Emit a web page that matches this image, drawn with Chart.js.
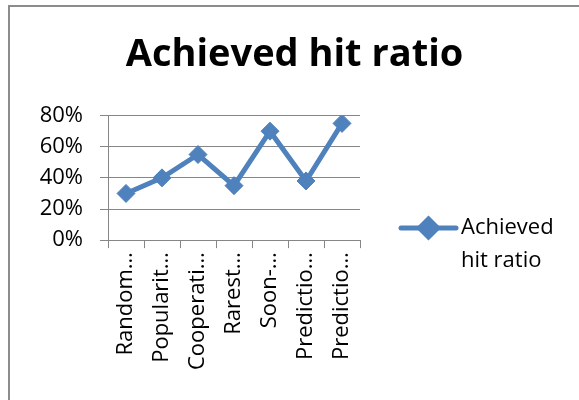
<!DOCTYPE html>
<html>
<head>
<meta charset="utf-8">
<script src="https://cdn.jsdelivr.net/npm/chart.js@4"></script>
<style>
  html, body { margin: 0; padding: 0; background: #fff; }
  #wrap { width: 579px; height: 400px; }
</style>
</head>
<body>
<div id="wrap"><canvas id="line-chart" width="579" height="400"></canvas></div>
<script>
const categories = ['Random…', 'Popularit…', 'Cooperati…', 'Rarest…', 'Soon-…', 'Predictio…', 'Predictio…'];
const hitRatio = [0.30, 0.40, 0.55, 0.35, 0.70, 0.38, 0.75];
const yTicks = [0, 0.2, 0.4, 0.6, 0.8];
const seriesName = 'Achieved hit ratio';
const legendLines = ['Achieved', 'hit ratio'];

const BLUE = '#4f81bd';
const GRID = '#868686';
const FONT = '"Open Sans", "Liberation Sans", sans-serif';

// frame round the chart, like the Excel chart border
const framePlugin = {
  id: 'frame',
  beforeDraw(chart) {
    const ctx = chart.ctx;
    ctx.save();
    ctx.strokeStyle = '#8c8c8c';
    ctx.lineWidth = 2;
    ctx.strokeRect(9, 6, chart.width + 20, chart.height + 20);
    ctx.restore();
  }
};

// legend on the right: line + diamond, wrapped text
const sideLegend = {
  id: 'sideLegend',
  afterDraw(chart) {
    const ctx = chart.ctx;
    const ds = chart.data.datasets[0];
    const x0 = 401, x1 = 456, y = 228;
    ctx.save();
    ctx.strokeStyle = ds.borderColor;
    ctx.lineWidth = ds.borderWidth;
    ctx.lineCap = 'round';
    ctx.beginPath();
    ctx.moveTo(x0, y);
    ctx.lineTo(x1, y);
    ctx.stroke();
    ctx.fillStyle = ds.pointBackgroundColor;
    ctx.strokeStyle = ds.pointBorderColor;
    Chart.helpers.drawPoint(ctx, {pointStyle: 'rectRot', radius: ds.pointRadius, borderWidth: 1}, (x0 + x1) / 2, y);
    ctx.fillStyle = '#000';
    ctx.font = '22px ' + FONT;
    ctx.textBaseline = 'middle';
    legendLines.forEach((t, i) => ctx.fillText(t, 461, y + i * 33));
    ctx.restore();
  }
};

new Chart(document.getElementById('line-chart'), {
  type: 'line',
  data: {
    labels: categories,
    datasets: [{
      label: seriesName,
      data: hitRatio,
      borderColor: BLUE,
      backgroundColor: BLUE,
      pointBackgroundColor: BLUE,
      pointBorderColor: BLUE,
      borderWidth: 5,
      pointStyle: 'rectRot',
      pointRadius: 9,
      pointBorderWidth: 1,
      tension: 0
    }]
  },
  options: {
    responsive: false,
    animation: false,
    layout: { padding: { left: 10, right: 0, top: 0, bottom: 26 } },
    plugins: {
      legend: { display: false },
      tooltip: { enabled: false },
      title: {
        display: true,
        text: seriesName,
        color: '#000',
        font: { family: FONT, size: 38, weight: 'bold' },
        padding: { top: 32, bottom: 38 }
      }
    },
    scales: {
      y: {
        min: 0,
        max: 0.8,
        afterBuildTicks(axis) { axis.ticks = yTicks.map(v => ({ value: v })); },
        afterFit(axis) { axis.width = 98; },
        ticks: {
          color: '#000',
          font: { family: FONT, size: 22 },
          padding: 17,
          autoSkip: false,
          callback: v => Math.round(v * 100) + '%'
        },
        grid: { color: GRID, lineWidth: 1, tickLength: 8 },
        border: { color: GRID, width: 1 }
      },
      y2: {
        position: 'right',
        afterFit(axis) { axis.width = 219; },
        ticks: { display: false },
        grid: { display: false },
        border: { display: false }
      },
      x: {
        offset: true,
        grid: { offset: true, drawOnChartArea: false, color: GRID, tickLength: 8 },
        border: { color: GRID, width: 1 },
        ticks: {
          color: '#000',
          font: { family: FONT, size: 22 },
          minRotation: 90,
          maxRotation: 90,
          autoSkip: false,
          padding: 4
        }
      }
    }
  },
  plugins: [framePlugin, sideLegend]
});
</script>
</body>
</html>
